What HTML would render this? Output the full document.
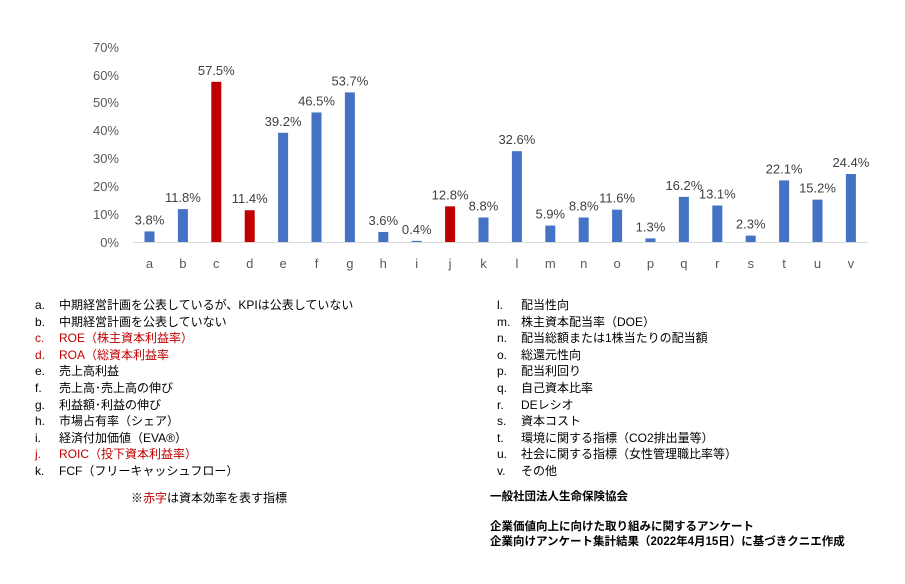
<!DOCTYPE html><html><head><meta charset="utf-8"><style>
body{margin:0;background:#fff;width:905px;height:584px;overflow:hidden;font-family:"Liberation Sans","Noto Sans CJK JP",sans-serif}
.l{position:absolute;font-size:12px;line-height:16.6px;color:#000;white-space:nowrap}
.l div span{display:inline-block;width:24px}
.r{color:#c00000}
</style></head><body>
<svg width="905" height="290" style="position:absolute;left:0;top:0" font-family="Liberation Sans, Noto Sans CJK JP, sans-serif">
<g font-size="13" fill="#595959" text-anchor="end">
<text x="119" y="247">0%</text><text x="119" y="219">10%</text><text x="119" y="191">20%</text><text x="119" y="163">30%</text><text x="119" y="135">40%</text><text x="119" y="107">50%</text><text x="119" y="80">60%</text><text x="119" y="52">70%</text>
</g>
<line x1="133" y1="242.5" x2="868" y2="242.5" stroke="#d9d9d9"/>
<g id="bars"></g>
</svg>
<div class="l" style="left:35px;top:297px">
<div><span>a.</span>中期経営計画を公表しているが、KPIは公表していない</div>
<div><span>b.</span>中期経営計画を公表していない</div>
<div class="r"><span>c.</span>ROE（株主資本利益率）</div>
<div class="r"><span>d.</span>ROA（総資本利益率</div>
<div><span>e.</span>売上高利益</div>
<div><span>f.</span>売上高･売上高の伸び</div>
<div><span>g.</span>利益額･利益の伸び</div>
<div><span>h.</span>市場占有率（シェア）</div>
<div><span>i.</span>経済付加価値（EVA®）</div>
<div class="r"><span>j.</span>ROIC（投下資本利益率）</div>
<div><span>k.</span>FCF（フリーキャッシュフロー）</div>
</div>
<div class="l" style="left:131px;top:490px">※<span class="r">赤字</span>は資本効率を表す指標</div>
<div class="l" style="left:497px;top:297px">
<div><span>l.</span>配当性向</div>
<div><span>m.</span>株主資本配当率（DOE）</div>
<div><span>n.</span>配当総額または1株当たりの配当額</div>
<div><span>o.</span>総還元性向</div>
<div><span>p.</span>配当利回り</div>
<div><span>q.</span>自己資本比率</div>
<div><span>r.</span>DEレシオ</div>
<div><span>s.</span>資本コスト</div>
<div><span>t.</span>環境に関する指標（CO2排出量等）</div>
<div><span>u.</span>社会に関する指標（女性管理職比率等）</div>
<div><span>v.</span>その他</div>
</div>
<div class="l" style="left:490px;top:490px;font-size:11.5px;line-height:15px;font-weight:bold">一般社団法人生命保険協会<br><br>企業価値向上に向けた取り組みに関するアンケート<br>企業向けアンケート集計結果（2022年4月15日）に基づきクニエ作成</div>
<script>
var d=[["a",3.8],["b",11.8],["c",57.5,1],["d",11.4,1],["e",39.2],["f",46.5],["g",53.7],["h",3.6],["i",0.4],["j",12.8,1],["k",8.8],["l",32.6],["m",5.9],["n",8.8],["o",11.6],["p",1.3],["q",16.2],["r",13.1],["s",2.3],["t",22.1],["u",15.2],["v",24.4]];
var s="";d.forEach(function(e,i){var cx=149.5+i*33.4,h=e[1]*2.786,y=242-h;
s+='<rect x="'+(cx-5)+'" y="'+y+'" width="10" height="'+h+'" fill="'+(e[2]?"#c00000":"#4472c4")+'"/>';
s+='<text x="'+cx+'" y="'+(y-7)+'" font-size="13" fill="#404040" text-anchor="middle">'+e[1].toFixed(1)+'%</text>';
s+='<text x="'+cx+'" y="268" font-size="13" fill="#595959" text-anchor="middle">'+e[0]+'</text>';});
document.getElementById("bars").innerHTML=s;
</script>
</body></html>
